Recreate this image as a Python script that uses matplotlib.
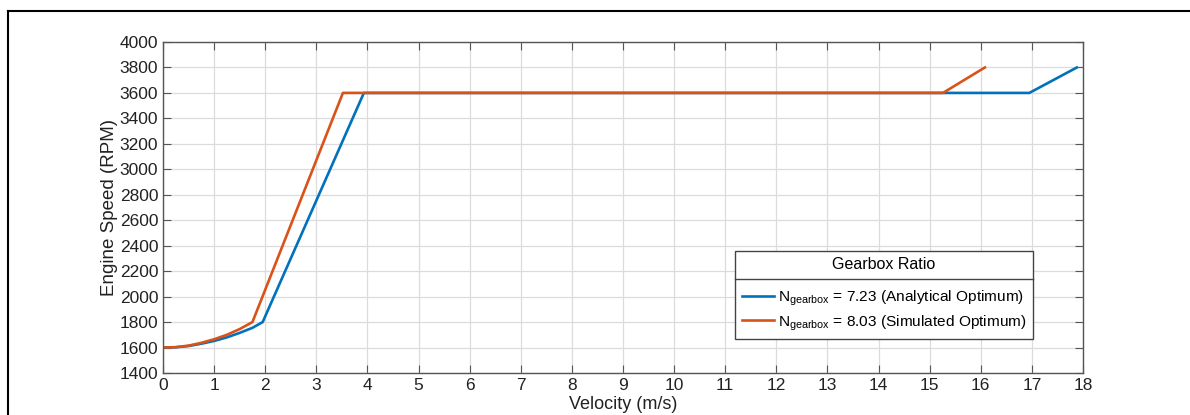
import numpy as np
import matplotlib.pyplot as plt
from matplotlib.lines import Line2D

plt.rcParams['font.family'] = ['Liberation Sans', 'DejaVu Sans']
plt.rcParams['mathtext.fontset'] = 'custom'
plt.rcParams['mathtext.rm'] = 'Liberation Sans'

# Datos
v_analytical = [0, 0.25, 0.5, 0.75, 1.0, 1.25, 1.5, 1.75, 1.95, 3.93, 16.95, 17.88]
rpm_analytical = [1600, 1602, 1612, 1630, 1652, 1680, 1715, 1755, 1800, 3600, 3600, 3800]
v_simulated = [0, 0.25, 0.5, 0.75, 1.0, 1.25, 1.5, 1.75, 3.52, 15.26, 16.08]
rpm_simulated = [1600, 1603, 1615, 1637, 1665, 1700, 1745, 1800, 3600, 3600, 3800]
labels = [r"N$_{\mathrm{gearbox}}$ = 7.23 (Analytical Optimum)",
          r"N$_{\mathrm{gearbox}}$ = 8.03 (Simulated Optimum)"]

fig = plt.figure(figsize=(11.9, 4.15), dpi=100)
ax = fig.add_axes([163 / 1190, 1 - 373 / 415, 920 / 1190, 331 / 415])

ax.plot(v_analytical, rpm_analytical, color='#0072BD', lw=1.9, label=labels[0])
ax.plot(v_simulated, rpm_simulated, color='#D95319', lw=1.9, label=labels[1])

ax.set_xlim(0, 18)
ax.set_ylim(1400, 4000)
ax.set_xticks(np.arange(0, 19, 1))
ax.set_yticks(np.arange(1400, 4001, 200))
ax.grid(True, color='#dcdcdc', lw=0.9)
ax.set_axisbelow(True)
ax.tick_params(direction='in', top=True, right=True, length=6, color='#555555',
               labelsize=12.5, labelcolor='#222222')
for s in ax.spines.values():
    s.set_color('#555555')
    s.set_linewidth(1.0)
ax.set_xlabel("Velocity (m/s)", fontsize=13, color='#222222', labelpad=2)
ax.set_ylabel("Engine Speed (RPM)", fontsize=13.5, color='#222222', labelpad=1)

leg = ax.legend(title="Gearbox Ratio", loc='lower right', bbox_to_anchor=(1033 / 1190, 1 - 339 / 415),
                bbox_transform=fig.transFigure, fontsize=11.1, title_fontsize=11.5,
                fancybox=False, edgecolor='#444444', framealpha=1, handlelength=2.1,
                handletextpad=0.25, borderpad=0.42, labelspacing=0.3, borderaxespad=0)
leg.get_frame().set_linewidth(1.0)
leg._legend_box.sep = 12

# línea separadora bajo el título de la leyenda
fig.canvas.draw()
fb = leg.get_frame().get_window_extent()
tb = leg.get_title().get_window_extent()
ysep = (tb.y0 - 7) / fig.bbox.height
fig.add_artist(Line2D([fb.x0 / fig.bbox.width, fb.x1 / fig.bbox.width], [ysep, ysep],
                      transform=fig.transFigure, color='#444444', lw=1.0))

# marco del documento
fig.add_artist(Line2D([8 / 1190, 1.0], [1 - 11 / 415, 1 - 11 / 415], transform=fig.transFigure,
                      color='black', lw=1.5))
fig.add_artist(Line2D([8 / 1190, 8 / 1190], [0, 1 - 11 / 415], transform=fig.transFigure,
                      color='black', lw=1.5))

fig.savefig("out.png", dpi=100)
